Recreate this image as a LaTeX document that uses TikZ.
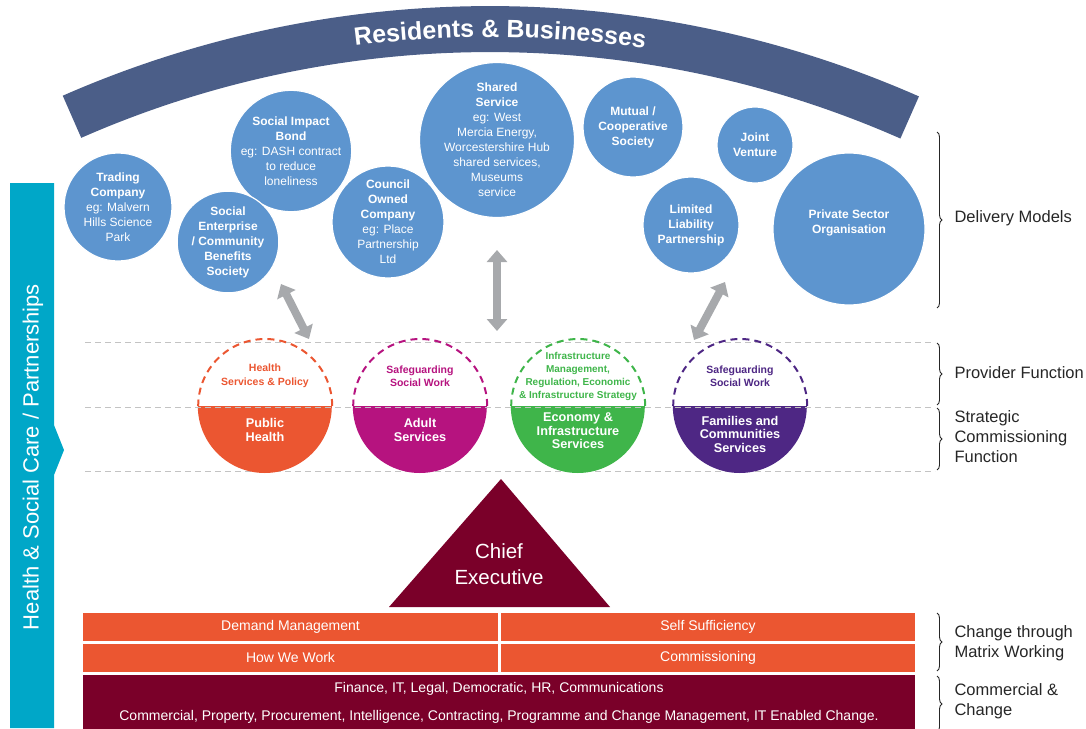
\documentclass[tikz,border=0pt]{standalone}
\usepackage{fontspec}
\setmainfont{Liberation Sans}
\usepackage{tikz}
\usetikzlibrary{arrows.meta,decorations.pathreplacing,decorations.text}
\definecolor{bandblue}{HTML}{4B5E88}
\definecolor{blobblue}{HTML}{5D95CF}
\definecolor{arrowgrey}{HTML}{A7A9AC}
\definecolor{barteal}{HTML}{00A7C8}
\definecolor{phorange}{HTML}{EB5631}
\definecolor{adultmag}{HTML}{B6137F}
\definecolor{econgreen}{HTML}{3FB54A}
\definecolor{famviolet}{HTML}{4E2784}
\definecolor{ceomaroon}{HTML}{7A0029}
\definecolor{guidegrey}{HTML}{C3C3C3}
\definecolor{labtext}{HTML}{262626}
\newcommand\bandfont{\fontsize{25}{30}\selectfont\bfseries}
\tikzset{
  blob/.style={circle, fill=blobblue, draw=white, line width=1.2pt, text=white, align=center,
    inner sep=0pt, font=\fontsize{12}{15}\selectfont},
  dbl/.style={draw=arrowgrey, line width=8pt, <->, >={Triangle[width=20pt,length=12pt]}},
  guide/.style={draw=guidegrey, line width=1pt, dash pattern=on 6pt off 4pt},
  hcirc/.style={circle, minimum size=134pt, inner sep=0pt},
  hdash/.style={line width=2pt, dash pattern=on 7pt off 5pt},
  uptext/.style={align=center, font=\fontsize{10.5}{13.5}\selectfont\bfseries},
  lowtext/.style={align=center, text=white, font=\fontsize{12.7}{13.5}\selectfont\bfseries},
  rowbox/.style={fill=phorange, text=white, minimum height=28pt, inner sep=0pt,
    font=\fontsize{14}{16}\selectfont},
  basebox/.style={fill=ceomaroon, text=white, align=center, inner sep=0pt,
    font=\fontsize{14}{28}\selectfont},
  brc/.style={decorate, decoration={brace, amplitude=5pt}, draw=labtext, line width=0.9pt},
  labr/.style={anchor=west, align=left, text=labtext, font=\fontsize{16.5}{20}\selectfont}
}
\begin{document}
\begin{tikzpicture}[x=1pt,y=1pt]
  \useasboundingbox (0,0) rectangle (1086,-728);

  % residents band
  \coordinate (C) at (490,-1069);
  \fill[bandblue] ([shift={(113.7:1063)}]C) arc[start angle=113.7, end angle=66.2, radius=1063]
    -- ([shift={(66.2:1017)}]C) arc[start angle=66.2, end angle=113.7, radius=1017] -- cycle;
  \path[decorate, decoration={text along path, text align=center, text color=white,
    text={|\bandfont|Residents {\&} Businesses}}]
    ([shift={(113.7:1032)}]C) arc[start angle=113.7, end angle=65.2, radius=1032];

  % health & social care bar
  \fill[barteal] (10,-183) -- (54,-183) -- (54,-425) -- (64,-450) -- (54,-475) -- (54,-728)
    -- (10,-728) -- cycle;
  \node[rotate=90, text=white, font=\fontsize{22}{25}\selectfont] (hsc) at (33,-457)
    {Health \& Social Care / Partnerships};

  % delivery models
  \node[blob, minimum size=108pt] (trading) at (118,-207)
    {\textbf{Trading}\\\textbf{Company}\\eg: Malvern\\Hills Science\\Park};
  \node[blob, minimum size=120pt] (impact) at (291,-151)
    {\textbf{Social Impact}\\\textbf{Bond}\\eg: DASH contract\\to reduce\\loneliness};
  \node[blob, minimum size=100pt, font=\fontsize{12}{15}\selectfont\bfseries] (socent) at (228,-242)
    {Social\\Enterprise\\/ Community\\Benefits\\Society};
  \node[blob, minimum size=112pt] (council) at (388,-222)
    {\textbf{Council}\\\textbf{Owned}\\\textbf{Company}\\eg: Place\\Partnership\\Ltd};
  \node[blob, minimum size=140pt] (shared) at (497,-140)
    {\textbf{Shared}\\\textbf{Service}\\eg: West\\Mercia Energy,\\Worcestershire Hub\\shared services,\\Museums\\service};
  \node[blob, minimum size=100pt, font=\fontsize{12}{15}\selectfont\bfseries] (mutual) at (633,-127)
    {Mutual /\\Cooperative\\Society};
  \node[blob, minimum size=76pt, font=\fontsize{12}{15}\selectfont\bfseries] (joint) at (755,-145)
    {Joint\\Venture};
  \node[blob, minimum size=96pt, font=\fontsize{12}{15}\selectfont\bfseries] (llp) at (691,-225)
    {Limited\\Liability\\Partnership};
  \node[blob, minimum size=152pt, font=\fontsize{12}{15}\selectfont\bfseries] (private) at (849,-229)
    {Private Sector\\Organisation\\\mbox{}};

  % links down to the services
  \coordinate (a1s) at (281,-284); \coordinate (a1e) at (309,-339);
  \coordinate (a2s) at (497,-250); \coordinate (a2e) at (497,-331);
  \coordinate (a3s) at (725,-282); \coordinate (a3e) at (694,-340);
  \draw[dbl] (a1s) -- (a1e);
  \draw[dbl] (a2s) -- (a2e);
  \draw[dbl] (a3s) -- (a3e);

  \draw[guide] (85,-342) -- (935,-342);
  \draw[guide] (85,-471) -- (935,-471);

  % services, provider half dashed
  \node[hcirc] (pubh) at (265,-406) {};
  \node[hcirc] (adult) at (420,-406) {};
  \node[hcirc] (econ) at (578,-406) {};
  \node[hcirc] (fam) at (740,-406) {};
  \fill[phorange] (pubh.west) arc[start angle=180, end angle=360, radius=67] -- cycle;
  \draw[phorange, hdash] (pubh.east) arc[start angle=0, end angle=180, radius=67];
  \fill[adultmag] (adult.west) arc[start angle=180, end angle=360, radius=67] -- cycle;
  \draw[adultmag, hdash] (adult.east) arc[start angle=0, end angle=180, radius=67];
  \fill[econgreen] (econ.west) arc[start angle=180, end angle=360, radius=67] -- cycle;
  \draw[econgreen, hdash] (econ.east) arc[start angle=0, end angle=180, radius=67];
  \fill[famviolet] (fam.west) arc[start angle=180, end angle=360, radius=67] -- cycle;
  \draw[famviolet, hdash] (fam.east) arc[start angle=0, end angle=180, radius=67];
  \draw[guide] (85,-407) -- (935,-407);

  \node[uptext, text=phorange] (pubhup) at ([yshift=30]pubh.center) {Health\\Services \& Policy};
  \node[uptext, text=adultmag] (adultup) at ([yshift=30]adult.center) {Safeguarding\\Social Work};
  \node[uptext, text=econgreen, font=\fontsize{10}{13}\selectfont\bfseries] (econup)
    at ([yshift=30]econ.center) {Infrastructure\\Management,\\Regulation, Economic\\\& Infrastructure Strategy};
  \node[uptext, text=famviolet] (famup) at ([yshift=30]fam.center) {Safeguarding\\Social Work};
  \node[lowtext] (pubhlow) at ([yshift=-24]pubh.center) {Public\\Health};
  \node[lowtext] (adultlow) at ([yshift=-24]adult.center) {Adult\\Services};
  \node[lowtext] (econlow) at ([yshift=-25]econ.center) {Economy \&\\Infrastructure\\Services};
  \node[lowtext] (famlow) at ([yshift=-28]fam.center) {Families and\\Communities\\Services};

  % chief executive
  \fill[ceomaroon] (501,-479) -- (610,-607) -- (389,-607) -- cycle;
  \node[align=center, text=white, font=\fontsize{20.5}{26}\selectfont] (chief) at (499,-564)
    {Chief\\Executive};

  % matrix working and support
  \node[rowbox, minimum width=415pt] (demand) at (290.5,-626.5) {Demand Management};
  \node[rowbox, minimum width=414pt] (selfsuf) at (708,-626.5) {Self Sufficiency};
  \node[rowbox, minimum width=415pt] (howwe) at (290.5,-657.5) {How We Work};
  \node[rowbox, minimum width=414pt] (commis) at (708,-657.5) {Commissioning};
  \node[basebox, minimum width=832pt, minimum height=56pt] (support) at (499,-703)
    {Finance, IT, Legal, Democratic, HR, Communications\\
     Commercial, Property, Procurement, Intelligence, Contracting, Programme and Change Management, IT Enabled Change.};

  % braces and labels
  \draw[brc] (937,-132) -- (937,-308);
  \draw[brc] (937,-343) -- (937,-405);
  \draw[brc] (937,-408) -- (937,-470);
  \draw[brc] (937,-613) -- (937,-671);
  \draw[brc] (937,-676) -- (937,-732);
  \node[labr] (deliv) at (951,-218) {Delivery Models};
  \node[labr] (provf) at (951,-373) {Provider Function};
  \node[labr] (stratf) at (951,-437) {Strategic\\Commissioning\\Function};
  \node[labr] (matrix) at (951,-643) {Change through\\Matrix Working};
  \node[labr] (commch) at (951,-701) {Commercial \&\\Change};
\end{tikzpicture}
\end{document}
